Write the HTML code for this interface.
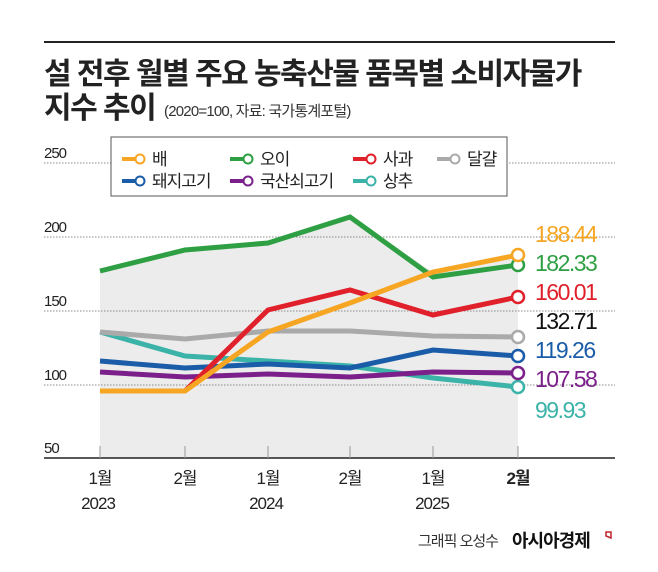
<!DOCTYPE html>
<html><head><meta charset="utf-8"><style>
body{margin:0;background:#fff;}
svg text{font-family:"Liberation Sans","Noto Sans CJK KR",sans-serif;}
</style></head><body>
<svg width="658" height="567" viewBox="0 0 658 567" xmlns="http://www.w3.org/2000/svg">
<line x1="44" y1="42" x2="615" y2="42" stroke="#222" stroke-width="2"/>
<text x="44" y="84" font-size="30" font-weight="bold" fill="#222" letter-spacing="-1.5">설 전후 월별 주요 농축산물 품목별 소비자물가</text>
<text x="44" y="118" font-size="30" font-weight="bold" fill="#222" letter-spacing="-1.5">지수 추이</text>
<text x="164" y="116" font-size="15" fill="#333" letter-spacing="-0.8">(2020=100, 자료: 국가통계포털)</text>
<polygon points="100,271 185,250 268,243 350,217 433,272 518,255 518,458 100,458" fill="#ececec"/>
<g stroke="#888" stroke-width="1" stroke-dasharray="1.5,1.5">
<line x1="44" y1="163" x2="615" y2="163"/><line x1="44" y1="237" x2="615" y2="237"/>
<line x1="44" y1="311" x2="615" y2="311"/><line x1="44" y1="385" x2="615" y2="385"/>
</g>
<g font-size="15" fill="#222" letter-spacing="-1">
<text x="44" y="158">250</text><text x="44" y="232">200</text><text x="44" y="306">150</text><text x="44" y="380">100</text><text x="44" y="453">50</text>
</g>
<line x1="44" y1="458" x2="615" y2="458" stroke="#222" stroke-width="1.5"/>
<g stroke="#999" stroke-width="1"><line x1="100" y1="446" x2="100" y2="458"/><line x1="185" y1="446" x2="185" y2="458"/><line x1="268" y1="446" x2="268" y2="458"/><line x1="350" y1="446" x2="350" y2="458"/><line x1="433" y1="446" x2="433" y2="458"/><line x1="518" y1="446" x2="518" y2="458"/></g>
<g font-size="17" fill="#222" text-anchor="middle" letter-spacing="-1">
<text x="100" y="484">1월</text><text x="185" y="484">2월</text><text x="268" y="484">1월</text><text x="350" y="484">2월</text><text x="433" y="484">1월</text><text x="518" y="484" font-weight="bold">2월</text>
<text x="98" y="509">2023</text><text x="266" y="509">2024</text><text x="432" y="509">2025</text>
</g>
<g fill="none" stroke-width="5" stroke-linejoin="miter">
<polyline stroke="#3bb3a8" points="100,332 185,356 268,361 350,366 433,378 518,387"/>
<polyline stroke="#7b1f8a" points="100,372 185,377 268,374 350,377 433,372 518,373"/>
<polyline stroke="#1a5ca8" points="100,361 185,368 268,364 350,368 433,350 518,356"/>
<polyline stroke="#aaaaaa" points="100,332 185,339 268,331 350,331 433,336 518,337"/>
<polyline stroke="#e0202a" points="185,391 268,310 350,290 433,315 518,297"/>
<polyline stroke="#2ea043" points="100,271 185,250 268,243 350,217 433,277 518,265"/>
<polyline stroke="#f6a623" points="100,391 185,391 268,332 350,303 433,272 518,255"/>
</g>
<g fill="#fff" stroke-width="2.5">
<circle cx="518" cy="387" r="6" stroke="#3bb3a8"/><circle cx="518" cy="373" r="6" stroke="#7b1f8a"/><circle cx="518" cy="356" r="6" stroke="#1a5ca8"/><circle cx="518" cy="337" r="6" stroke="#aaa"/><circle cx="518" cy="297" r="6" stroke="#e0202a"/><circle cx="518" cy="265" r="6" stroke="#2ea043"/><circle cx="518" cy="255" r="6" stroke="#f6a623"/>
</g>
<g font-size="23" letter-spacing="-1.5">
<text x="535" y="242" fill="#f6a623">188.44</text>
<text x="535" y="271" fill="#2ea043">182.33</text>
<text x="535" y="300" fill="#e0202a">160.01</text>
<text x="535" y="329" fill="#111">132.71</text>
<text x="535" y="358" fill="#1a5ca8">119.26</text>
<text x="535" y="387" fill="#7b1f8a">107.58</text>
<text x="535" y="418" fill="#3bb3a8">99.93</text>
</g>
<rect x="111" y="137" width="396" height="59" fill="#fff" stroke="#555" stroke-width="1"/>
<g stroke-width="4">
<line x1="122" y1="159" x2="136" y2="159" stroke="#f6a623"/><line x1="230" y1="159" x2="244" y2="159" stroke="#2ea043"/><line x1="353" y1="159" x2="367" y2="159" stroke="#e0202a"/><line x1="437" y1="159" x2="451" y2="159" stroke="#aaa"/>
<line x1="122" y1="181" x2="136" y2="181" stroke="#1a5ca8"/><line x1="230" y1="181" x2="244" y2="181" stroke="#7b1f8a"/><line x1="353" y1="181" x2="367" y2="181" stroke="#3bb3a8"/>
</g>
<g fill="#fff" stroke-width="2">
<circle cx="140" cy="159" r="4.5" stroke="#f6a623"/><circle cx="248" cy="159" r="4.5" stroke="#2ea043"/><circle cx="371" cy="159" r="4.5" stroke="#e0202a"/><circle cx="455" cy="159" r="4.5" stroke="#aaa"/>
<circle cx="140" cy="181" r="4.5" stroke="#1a5ca8"/><circle cx="248" cy="181" r="4.5" stroke="#7b1f8a"/><circle cx="371" cy="181" r="4.5" stroke="#3bb3a8"/>
</g>
<g font-size="17" fill="#222" letter-spacing="-1">
<text x="152" y="165">배</text><text x="260" y="165">오이</text><text x="383" y="165">사과</text><text x="467" y="165">달걀</text>
<text x="152" y="187">돼지고기</text><text x="260" y="187">국산쇠고기</text><text x="383" y="187">상추</text>
</g>
<text x="418" y="546" font-size="15" fill="#333" letter-spacing="-1">그래픽 오성수</text>
<text x="512" y="547" font-size="18" font-weight="bold" fill="#111" letter-spacing="-1">아시아경제</text>
<path d="M606 532 h5 v6 l-5 -2 z" fill="none" stroke="#c0202a" stroke-width="1.5"/>
</svg>
</body></html>
